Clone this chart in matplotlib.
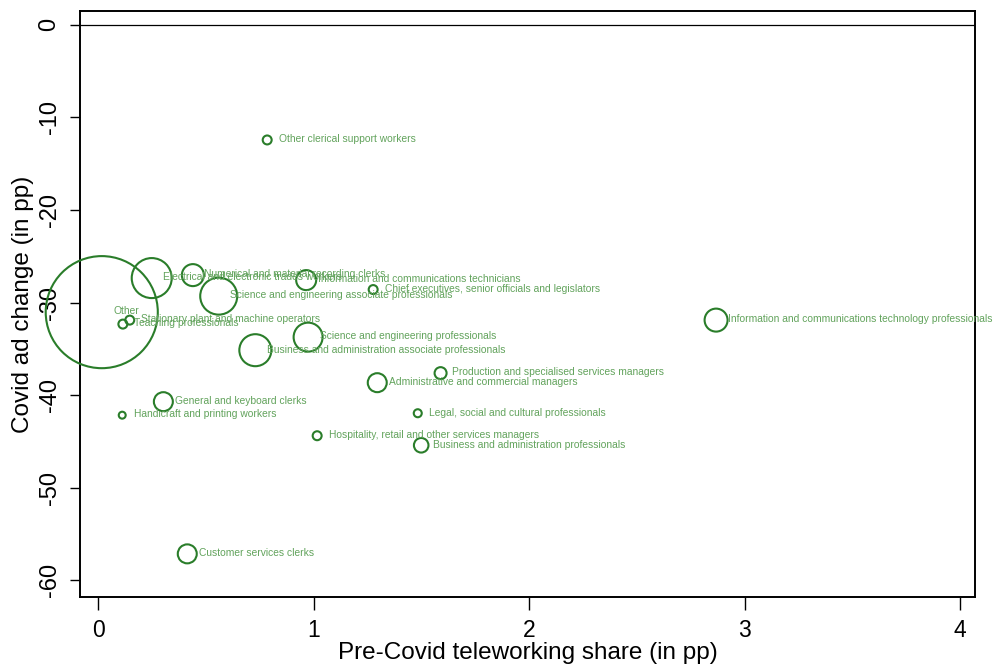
import matplotlib
matplotlib.use("Agg")
import matplotlib.pyplot as plt

plt.rcParams["font.family"] = ["Liberation Sans", "DejaVu Sans"]

# Occupation groups (ISCO 2-digit), pre-Covid teleworking share, change in ads, employment weight
occupations = [
    "Other clerical support workers",
    "Electrical and electronic trades workers",
    "Numerical and material recording clerks",
    "Information and communications technicians",
    "Chief executives, senior officials and legislators",
    "Science and engineering associate professionals",
    "Other",
    "Stationary plant and machine operators",
    "Teaching professionals",
    "Science and engineering professionals",
    "Business and administration associate professionals",
    "Information and communications technology professionals",
    "Production and specialised services managers",
    "Administrative and commercial managers",
    "General and keyboard clerks",
    "Handicraft and printing workers",
    "Legal, social and cultural professionals",
    "Hospitality, retail and other services managers",
    "Business and administration professionals",
    "Customer services clerks",
]
telework_share = [0.784, 0.248, 0.439, 0.965, 1.276, 0.559, 0.016, 0.146, 0.114, 0.974,
                  0.729, 2.868, 1.589, 1.295, 0.302, 0.111, 1.483, 1.016, 1.499, 0.413]
ad_change = [-12.43, -27.35, -27.03, -27.57, -28.59, -29.30, -31.03, -31.89, -32.32, -33.73,
             -35.14, -31.89, -37.62, -38.65, -40.70, -42.16, -41.95, -44.38, -45.41, -57.14]
weight = [0.20, 4.00, 1.21, 1.00, 0.20, 3.42, 31.4, 0.20, 0.20, 2.10,
          2.56, 1.32, 0.36, 0.90, 0.90, 0.12, 0.16, 0.20, 0.53, 0.90]

x_ticks = [0, 1, 2, 3, 4]
y_ticks = [0, -10, -20, -30, -40, -50, -60]

marker_green = "#2a7d2a"
label_green = "#62a35c"

fig = plt.figure(figsize=(9.95, 6.66), dpi=100)
ax = fig.add_axes([80 / 995, 1 - 597 / 666, 895 / 995, 586 / 666])

sizes = [w * 207.4 for w in weight]
ax.scatter(telework_share, ad_change, s=sizes, facecolors="none",
           edgecolors=marker_green, linewidths=1.5, zorder=3, clip_on=False)

for name, xv, yv in zip(occupations, telework_share, ad_change):
    ax.annotate(name, (xv, yv), xytext=(8.3, 0.5), textcoords="offset points",
                ha="left", va="center", fontsize=7.4, color=label_green,
                annotation_clip=False, zorder=4)

ax.axhline(0, color="black", linewidth=0.9, zorder=2)

ax.set_xlim(-0.085, 4.07)
ax.set_ylim(-61.8, 1.5)
ax.set_xticks(x_ticks)
ax.set_yticks(y_ticks)
ax.set_xticklabels([str(t) for t in x_ticks], fontsize=16.5)
ax.set_yticklabels([str(t) for t in y_ticks], fontsize=17, rotation=90, va="center")
ax.tick_params(axis="x", length=9, width=1, pad=7)
ax.tick_params(axis="y", length=7, width=1, pad=7)

for sp in ax.spines.values():
    sp.set_linewidth(1.4)

ax.set_xlabel("Pre-Covid teleworking share (in pp)", fontsize=17.5, labelpad=0)
ax.set_ylabel("Covid ad change (in pp)", fontsize=17.5, labelpad=3)

fig.savefig("out.png", dpi=100)
